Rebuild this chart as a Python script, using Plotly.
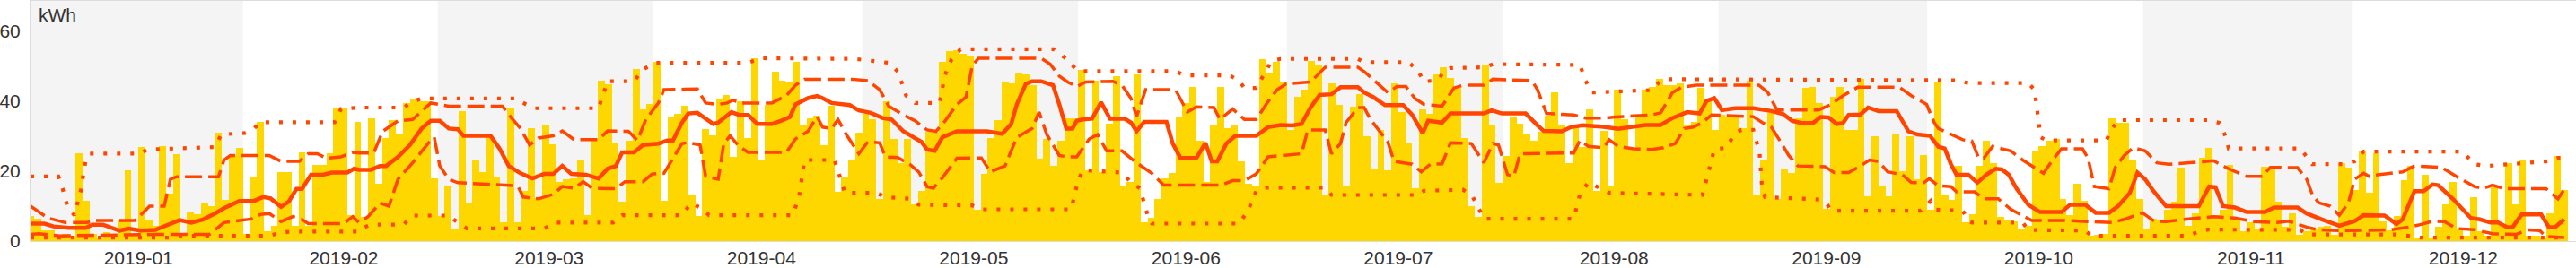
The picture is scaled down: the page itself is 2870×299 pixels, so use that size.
import pandas as pd
import plotly.graph_objects as go

# ---------------- data ----------------
start_date = "2019-01-01"

daily_kwh = [
    7.3, 6.5, 3.2, 3.0, 1.0, 2.0, 1.5, 25.1, 11.5, 2.0,
    1.0, 2.5, 1.5, 5.8, 20.3, 1.5, 26.9, 6.2, 4.3, 27.2,
    13.6, 24.9, 1.5, 8.2, 7.8, 11.0, 10.0, 31.1, 11.9, 24.5,
    26.7, 2.0, 18.1, 34.0, 2.7, 4.3, 19.8, 19.8, 4.4, 25.4,
    4.4, 21.8, 21.8, 25.2, 38.2, 38.2, 7.5, 34.0, 7.0, 35.0,
    16.4, 29.5, 34.6, 30.5, 39.5, 40.6, 40.0, 40.0, 18.0, 7.3,
    15.7, 3.6, 37.2, 10.9, 23.0, 19.8, 29.7, 18.1, 5.5, 38.2,
    5.3, 14.4, 32.4, 12.4, 33.0, 27.8, 16.8, 17.7, 17.9, 23.2,
    7.4, 29.2, 46.0, 44.9, 28.0, 11.3, 28.6, 49.3, 37.8, 39.2,
    51.3, 11.5, 35.6, 36.5, 38.6, 13.0, 7.3, 32.0, 30.3, 40.8,
    41.8, 24.1, 40.0, 29.5, 52.3, 23.2, 39.0, 48.5, 46.0, 45.7,
    51.3, 33.0, 35.2, 36.0, 27.4, 38.6, 14.1, 18.1, 23.2, 30.9,
    36.5, 34.8, 12.1, 39.9, 29.2, 22.4, 29.2, 10.4, 14.3, 31.4,
    31.0, 51.2, 54.4, 54.6, 53.6, 52.7, 9.1, 19.2, 29.5, 34.6,
    45.7, 45.2, 48.2, 47.6, 44.6, 23.7, 29.2, 21.5, 28.8, 35.0,
    35.2, 49.0, 20.3, 45.9, 19.8, 33.5, 47.2, 15.8, 16.8, 47.6,
    5.3, 6.6, 12.1, 17.9, 19.4, 35.6, 39.5, 44.0, 28.8, 17.0,
    33.2, 44.0, 32.2, 33.0, 22.8, 16.4, 15.6, 52.0, 48.3, 51.2,
    45.7, 31.8, 41.2, 43.2, 51.5, 50.6, 13.4, 45.0, 39.0, 15.8,
    38.4, 42.0, 30.1, 20.5, 31.8, 20.3, 45.0, 36.9, 28.0, 15.0,
    37.8, 36.5, 47.6, 49.7, 46.6, 43.8, 29.5, 10.0, 6.8, 50.6,
    33.2, 16.7, 24.4, 35.4, 33.5, 30.5, 28.8, 31.4, 35.8, 42.5,
    33.1, 22.4, 33.2, 27.0, 37.8, 14.4, 31.5, 16.0, 43.3, 34.8,
    26.4, 35.8, 43.3, 44.0, 46.3, 44.6, 44.6, 45.2, 33.0, 34.0,
    43.8, 40.8, 31.8, 36.1, 35.5, 35.6, 32.2, 45.9, 13.0, 23.0,
    36.7, 12.1, 20.7, 19.4, 35.0, 43.9, 44.2, 39.5, 9.3, 41.2,
    44.2, 31.8, 31.8, 46.3, 12.7, 30.1, 16.0, 12.7, 30.7, 20.1,
    30.1, 17.7, 24.5, 9.1, 45.5, 13.4, 11.9, 21.5, 5.3, 7.6,
    21.5, 28.8, 22.4, 7.0, 5.9, 5.7, 3.3, 4.4, 25.6, 27.1,
    28.8, 29.2, 12.1, 7.4, 16.4, 11.5, 1.5, 1.8, 2.0, 35.0,
    33.9, 33.9, 23.4, 12.1, 3.3, 6.3, 5.9, 8.9, 11.3, 21.1,
    4.4, 7.9, 23.8, 26.7, 7.4, 9.1, 21.8, 6.2, 2.7, 5.3,
    3.6, 21.3, 21.3, 11.3, 4.0, 8.0, 1.9, 2.9, 3.6, 4.0,
    4.3, 1.9, 22.4, 21.1, 14.7, 25.6, 13.8, 25.0, 5.7, 3.2,
    7.3, 17.4, 21.5, 1.0, 19.0, 1.0, 4.2, 10.4, 17.0, 3.6,
    1.5, 12.6, 2.7, 1.5, 15.3, 4.9, 22.4, 10.4, 23.0, 1.5,
    1.5, 1.0, 8.0, 24.4, 14.7,
]

# solid line (rolling mean) : day offset from start_date, kWh
mean_days = [0, 2, 3.3, 5.5, 7.9, 8.9, 10.4, 12.8, 14.1, 15.8, 17.9, 19.7, 21.4, 23.1, 24.8, 26.5, 27.8, 30, 32.1, 33.4,
             34.5, 36, 37.1, 38.2, 39, 40.3, 42, 43.3, 45.5, 46.5, 47.2, 48.9, 50.2, 51.1, 52.8, 54.5, 56.2, 57.5, 58.8, 60.1,
             61.4, 62.2, 66.1, 67.4, 68.7, 70.4, 72.1, 73.8, 75.1, 76.4, 77.7, 79.8, 81.6, 82.9, 84.1, 85, 86.7, 88, 90.2, 91.5,
             92.3, 93.6, 94.5, 95.8, 97, 98.1, 98.8, 99.6, 100.7, 101.8, 103.1, 104.4, 106.5, 107.8, 109.1, 109.9, 111.7, 113, 113.8, 115.1,
             116.8, 117.7, 119, 120.7, 122.4, 123.7, 125.4, 126.7, 128, 128.8, 129.9, 131, 133.1, 137.4, 139.6, 140.9, 141.7, 143, 143.9, 145.2,
             146.9, 147.8, 148.8, 149.7, 150.3, 151.2, 152.5, 153.8, 155.1, 157.2, 158.1, 158.9, 160, 163.2, 164.1, 165.2, 167.5, 168.8, 169.7, 170.5,
             171.8, 173.1, 176.1, 177.8, 179.6, 181.3, 182.6, 183.9, 185.2, 186.9, 188.2, 190.7, 191.6, 192.9, 194.6, 197.2, 198.5, 200, 200.8, 202.8,
             204, 208.8, 209.9, 211.4, 214.8, 216.5, 217.4, 220, 221.3, 223, 226, 228.1, 230.3, 232, 234.2, 235.9, 238, 239.8, 240.8, 241.9,
             243, 244.9, 247.5, 250.1, 251.8, 253.1, 254.4, 256.1, 257.2, 258.3, 259.5, 260.4, 261.2, 262.9, 264, 265.5, 268.1, 269.8, 271.1, 272.9,
             274.1, 275, 275.9, 276.7, 278.4, 279.7, 281, 282.3, 283.2, 284.2, 285.3, 287, 288.7, 291.8, 293, 295.2, 296.7, 298.6, 299.9, 301.6,
             302.7, 303.8, 305, 306.8, 311.5, 313, 313.9, 315, 316.7, 318.4, 321, 322.3, 325.7, 327, 329.2, 331.7, 333.9, 335.2, 338.2, 339.9,
             340.8, 342.5, 343.8, 345.1, 345.9, 348, 350.6, 351.9, 353.4, 354.5, 355.8, 356.6, 357.9, 360.7, 361.8, 362.7, 364]
mean_kwh = [5.0, 5.0, 4.2, 3.8, 3.8, 4.7, 4.7, 3.0, 3.6, 3.0, 3.2, 4.7, 6.0, 5.3, 6.2, 7.9, 9.4, 11.5, 11.5, 12.6,
            12.2, 9.8, 11.3, 14.9, 14.9, 19.0, 19.0, 19.6, 19.6, 20.7, 20.4, 20.4, 21.5, 21.5, 24.1, 27.5, 32.2, 34.4, 34.4, 32.2,
            32.0, 30.1, 30.1, 26.4, 21.5, 19.4, 17.9, 19.2, 19.2, 21.5, 19.2, 19.0, 17.9, 20.7, 21.5, 25.4, 25.4, 27.5, 27.9, 28.8,
            28.8, 33.9, 36.5, 36.7, 35.2, 33.5, 33.9, 35.2, 36.9, 36.1, 36.1, 33.5, 33.5, 34.4, 35.5, 39.1, 40.9, 41.5, 40.9, 39.5,
            39.1, 38.9, 37.4, 36.7, 35.2, 34.8, 31.4, 29.8, 28.4, 26.2, 25.8, 29.7, 31.4, 31.4, 30.7, 33.5, 39.1, 45.0, 45.7, 45.7,
            44.6, 39.1, 32.2, 32.2, 34.4, 34.8, 35.0, 39.7, 35.0, 35.0, 33.9, 31.4, 34.1, 34.1, 27.9, 23.8, 23.8, 28.1, 22.8, 22.8,
            27.9, 30.1, 30.1, 32.6, 33.2, 33.1, 33.5, 38.2, 41.8, 42.0, 44.0, 44.0, 42.5, 41.2, 38.9, 38.9, 36.1, 30.9, 34.4, 33.9,
            36.5, 36.5, 37.4, 36.5, 36.5, 33.1, 31.5, 31.4, 32.6, 33.1, 32.7, 32.1, 32.6, 33.2, 33.2, 35.2, 36.9, 36.5, 40.1, 40.9,
            37.5, 38.0, 38.0, 37.2, 36.3, 34.4, 33.8, 33.8, 35.5, 35.4, 33.5, 33.8, 36.1, 36.2, 38.2, 37.2, 37.2, 31.4, 30.5, 30.1,
            27.0, 26.5, 22.0, 19.0, 19.0, 16.7, 19.0, 20.7, 20.5, 19.0, 15.1, 10.4, 8.3, 8.3, 10.4, 10.4, 8.1, 8.1, 10.0, 13.8,
            19.6, 17.7, 14.3, 10.0, 10.0, 15.6, 15.4, 10.0, 9.6, 8.3, 8.3, 9.6, 9.6, 7.9, 6.2, 4.4, 5.7, 7.4, 7.3, 4.9,
            6.2, 14.3, 14.3, 16.2, 16.0, 12.1, 6.6, 6.2, 5.3, 5.3, 4.0, 4.0, 7.6, 7.6, 4.0, 4.0, 6.2]

# upper dashed line
upper_days = [0, 1, 2.5, 5, 8.1, 9.4, 15, 15.8, 17.1, 19.2, 20.1, 21, 27, 27.8, 28.7, 34.3, 36, 38.6, 39.9, 41.2,
              42.5, 44.6, 46.3, 47.2, 49.3, 50.6, 52.8, 54.9, 57.5, 60.1, 67.8, 69.1, 70.4, 71.7, 73, 75.1, 76.4, 78.1, 81.6, 82.9,
              85.9, 87.2, 88.4, 90.2, 91, 95.8, 97, 98.8, 100.1, 100.9, 102.2, 106.5, 108.6, 109.9, 111.2, 118.1, 120.3, 122, 123.3, 125.4,
              127.1, 128.8, 130.1, 131.4, 133.1, 134.4, 135.3, 136.2, 145.2, 146.5, 147.8, 149, 150.3, 151.6, 155.5, 156.8, 158.1, 158.9, 160.2, 164.5,
              165.4, 166.2, 167.5, 170, 170.9, 172.7, 174.4, 176.1, 177.8, 179.1, 180.4, 183.9, 186, 190.7, 191.6, 192.9, 195, 196.3, 197.6, 198.9,
              200.2, 202.8, 204.5, 205.8, 208.8, 210.1, 215.7, 216.5, 217.8, 221.7, 223.4, 226.4, 227.7, 232.9, 234.2, 235.9, 237.2, 239.3, 248.3, 249.6,
              250.9, 256.9, 258.7, 260.4, 262.5, 268.5, 270.2, 272.4, 273.5, 274.1, 275.9, 277.6, 278.9, 279.9, 280.6, 281.9, 283.2, 284.5, 286.2, 287.9,
              289.2, 290.5, 291.8, 294.8, 295.6, 296.5, 298.6, 299.5, 300.8, 302.1, 303.8, 305.5, 307.2, 310.2, 311.9, 313.6, 315.8, 318.4, 320.6, 321.8,
              325.7, 327, 327.8, 328.7, 330.4, 331.7, 333, 333.9, 335.2, 336, 336.9, 340.8, 342.5, 346.4, 348.5, 351.1, 352.4, 353.7, 355.4, 361.4,
              363.1, 364]
upper_kwh = [10.0, 8.7, 6.6, 5.3, 5.3, 5.9, 5.9, 7.4, 10.0, 10.0, 17.7, 18.4, 18.4, 23.2, 24.5, 24.5, 22.8, 22.8, 25.0, 25.0,
             23.7, 24.1, 25.4, 25.2, 25.2, 31.4, 34.4, 34.8, 39.5, 38.6, 38.6, 35.2, 32.2, 27.5, 29.5, 30.1, 31.5, 29.0, 29.0, 31.5,
             31.4, 28.8, 34.8, 39.5, 43.3, 43.5, 39.5, 39.1, 39.5, 40.3, 39.5, 39.5, 41.6, 44.6, 46.3, 46.3, 45.9, 43.3, 38.6, 36.1,
             34.4, 31.8, 31.4, 34.4, 39.1, 41.2, 50.2, 52.3, 52.3, 50.6, 47.2, 45.5, 44.2, 45.5, 45.7, 44.6, 40.8, 35.6, 43.3, 43.3,
             39.9, 36.9, 38.4, 38.2, 34.8, 37.8, 34.8, 34.8, 39.9, 43.3, 45.0, 45.5, 49.7, 49.7, 48.5, 46.3, 42.5, 44.2, 44.2, 40.8,
             39.1, 38.6, 43.8, 44.6, 44.6, 46.3, 45.9, 43.3, 36.5, 36.1, 35.2, 35.2, 35.5, 36.1, 36.7, 42.5, 44.0, 44.6, 44.6, 42.5,
             37.5, 37.5, 39.1, 41.6, 44.0, 44.0, 41.6, 39.1, 33.9, 32.2, 30.5, 29.0, 28.6, 23.7, 23.7, 27.1, 26.4, 25.8, 23.2, 21.1,
             19.4, 23.2, 26.4, 26.4, 23.7, 15.6, 15.0, 21.1, 24.5, 26.7, 25.8, 22.4, 22.0, 22.4, 22.8, 23.0, 20.7, 18.5, 18.5, 21.1,
             21.0, 17.7, 13.4, 11.0, 10.0, 7.4, 10.9, 17.7, 19.4, 18.5, 18.9, 19.8, 21.5, 21.1, 18.5, 15.6, 15.1, 16.0, 15.0, 15.0,
             12.1, 14.7]

# lower dashed line
lower_days = [0, 1.2, 4.2, 17.9, 25.7, 27, 27.8, 30, 31.7, 33, 34.3, 36, 37.7, 39, 39.9, 45, 46.3, 47.2, 48.5, 50.2,
              51.5, 52.8, 54.9, 57.1, 58, 58.8, 60.1, 61.4, 70, 70.8, 73, 75.1, 76.4, 78.1, 79.4, 80.7, 84.1, 85.4, 88, 89.3,
              91, 93.6, 94.5, 96.2, 97, 98.8, 99.6, 100.5, 101.8, 103.1, 108.6, 109.9, 111.7, 113, 113.8, 115.1, 116, 117.2, 119, 120.3,
              122, 122.8, 124.6, 126.3, 127.6, 128.8, 129.7, 131, 133.1, 136.6, 137.9, 140, 141.7, 143.9, 144.9, 146, 147.8, 149, 150.3, 152.1,
              153.3, 154.6, 156.8, 158.9, 161.1, 162.8, 171, 172.7, 174.4, 176.1, 177.8, 182.6, 183.5, 186, 186.9, 188.2, 189, 190.7, 191.6, 192.5,
              193.8, 195, 195.9, 198.5, 199.8, 201.1, 202.8, 204, 207, 208.8, 210.1, 210.9, 212.2, 213.1, 214, 221.7, 222.6, 223.8, 226, 226.8,
              228.1, 230.3, 232.9, 234.6, 236.3, 237.6, 238.9, 240.2, 241.5, 247.5, 248.8, 250.1, 251.3, 252.6, 253.9, 257.8, 259.1, 261.2, 262.9, 264.2,
              265.5, 266.8, 268.9, 270.2, 272, 272.8, 274.1, 275.9, 276.7, 279.3, 280.6, 282.7, 284.5, 286.2, 287.5, 292.2, 294.3, 296.9, 299, 300.8,
              303.4, 305.1, 306.8, 309.4, 311.9, 313.6, 316.7, 319.3, 322.7, 324.4, 327, 328.7, 332.2, 339, 341.6, 343.3, 345.1, 346.8, 348.5, 351.1,
              353.7, 357.1, 358.8, 360.5, 361.4, 364]
lower_kwh = [1.9, 2.1, 1.5, 1.9, 1.9, 4.0, 5.3, 5.9, 6.3, 7.6, 7.9, 5.6, 7.0, 6.2, 5.0, 5.0, 7.0, 5.3, 7.0, 10.9,
             10.0, 17.7, 22.4, 27.9, 29.7, 21.5, 17.7, 16.7, 15.8, 12.6, 12.1, 13.4, 15.6, 15.1, 17.0, 15.1, 15.0, 17.0, 17.0, 19.2,
             19.4, 27.9, 28.2, 27.5, 18.5, 17.7, 27.9, 30.1, 27.1, 25.4, 25.4, 29.2, 31.4, 35.6, 32.6, 32.2, 34.8, 30.5, 25.0, 28.4,
             28.1, 24.1, 23.9, 22.0, 19.8, 15.6, 15.1, 18.1, 23.7, 23.8, 19.8, 21.5, 29.7, 32.2, 36.9, 30.5, 24.5, 24.1, 24.1, 29.2,
             30.5, 25.8, 25.8, 22.4, 19.4, 16.0, 16.0, 17.3, 17.3, 19.2, 24.1, 25.0, 31.8, 31.8, 25.0, 27.9, 33.9, 38.2, 38.2, 34.8,
             31.4, 28.4, 22.8, 22.0, 19.8, 22.0, 22.1, 28.1, 27.9, 22.4, 27.9, 27.5, 19.0, 18.5, 25.0, 25.2, 28.8, 27.1, 26.7, 29.0,
             27.1, 26.4, 26.2, 26.7, 27.9, 32.2, 32.6, 33.9, 36.1, 35.6, 33.9, 32.6, 28.8, 24.5, 21.5, 21.3, 19.6, 19.6, 21.5, 23.2,
             22.8, 19.8, 19.0, 16.8, 16.7, 17.9, 15.8, 15.6, 14.1, 14.1, 12.1, 12.1, 9.1, 7.3, 5.9, 5.9, 5.7, 5.5, 5.3, 6.2,
             8.1, 5.7, 5.6, 6.2, 6.6, 7.0, 6.6, 5.6, 5.3, 5.7, 4.0, 3.2, 3.0, 3.2, 4.0, 4.7, 5.7, 5.6, 3.6, 3.3,
             2.1, 1.9, 3.2, 3.0, 1.3, 1.0]

# upper dotted line (rolling max)
max_days = [0, 4, 4.6, 5.3, 6.3, 7.2, 7.9, 8.5, 15.8, 16.7, 26.5, 27.4, 30.8, 32.1, 33, 43.7, 44.6, 47.2, 53.6, 54.9,
            56.2, 69.5, 71.2, 72.5, 81.6, 82.9, 86.7, 88, 89.7, 103.1, 104.4, 104.8, 118.5, 123.3, 124.6, 125.8, 127.1, 130.6, 131.4, 132.3,
            133.6, 147, 148.7, 150.3, 151.2, 164.5, 165.8, 172.3, 173.6, 174.4, 176.1, 177.2, 178.3, 179.6, 190.7, 191.6, 198, 199.4, 200.2, 202.3,
            203.2, 204, 208.8, 210.1, 222.6, 223.4, 224.3, 232.9, 234.2, 235, 276.7, 278.4, 287, 287.9, 288.3, 288.8, 289.6, 298.2, 299.1, 299.9,
            312.8, 314.5, 315.4, 315.8, 326.1, 327.4, 327.8, 332.2, 333.9, 335.2, 349.4, 351.1, 352.8, 361.4, 363.1, 364]
max_kwh = [18.5, 18.5, 15.1, 10.0, 7.4, 14.3, 22.8, 25.0, 25.0, 26.2, 26.9, 30.5, 30.9, 32.2, 34.0, 34.0, 37.8, 38.2, 38.2, 39.9,
           40.8, 40.8, 39.1, 38.0, 38.0, 45.7, 45.7, 49.1, 51.0, 51.0, 51.9, 52.3, 52.1, 51.0, 48.5, 41.6, 39.5, 39.5, 47.6, 51.9,
           54.9, 54.9, 52.3, 49.0, 48.6, 48.6, 47.4, 47.4, 45.9, 43.8, 43.8, 47.6, 51.5, 52.1, 52.1, 51.2, 51.2, 48.5, 45.5, 46.3,
           48.9, 49.5, 49.7, 50.6, 50.4, 45.9, 42.5, 43.2, 45.9, 46.3, 46.0, 45.2, 45.2, 43.3, 37.4, 29.7, 28.8, 28.8, 32.2, 34.6,
           34.6, 33.8, 29.7, 26.5, 26.5, 23.2, 22.0, 22.0, 22.8, 25.6, 25.6, 22.0, 21.5, 22.8, 23.8, 23.8]

# lower dotted line (rolling min)
min_days = [0, 20, 21.4, 34.3, 36, 37.3, 47.2, 48, 48.9, 53.6, 54.9, 60.1, 61.4, 62.7, 73.8, 75.5, 83.7, 85, 93.6, 94.9,
            96.2, 97.5, 109.5, 110.4, 111.2, 115.5, 116.4, 117, 121.5, 122.8, 126.3, 127.6, 135.3, 136.6, 149.5, 150.5, 151.2, 156.8, 158.1, 159.4,
            160.6, 161.1, 173.6, 174.8, 176.1, 177.4, 186, 186.9, 199.4, 200.2, 205.8, 207.1, 207.9, 208.8, 221.7, 222.6, 223.8, 225.1, 226.8, 240.2,
            241, 241.9, 243.6, 244.9, 245.8, 247.5, 248.4, 248.8, 249.2, 257, 258, 258.7, 271.5, 272.4, 273, 273.8, 277.6, 278.4, 278.9, 286.2,
            287, 295.2, 296.1, 309.8, 311.5, 312.8, 326.1, 327, 339.9, 341.6, 343.3, 364]
min_kwh = [1.0, 1.0, 1.5, 1.5, 2.5, 2.7, 2.7, 4.0, 4.7, 4.7, 7.3, 7.3, 5.3, 3.6, 3.6, 5.3, 5.3, 7.4, 7.4, 10.9,
           9.6, 7.4, 7.4, 12.6, 23.2, 23.2, 17.7, 13.8, 13.8, 12.6, 12.1, 10.4, 10.2, 9.1, 9.1, 17.3, 20.3, 19.6, 16.8, 15.1,
           6.6, 5.0, 5.0, 8.3, 14.3, 15.3, 15.3, 13.2, 13.2, 14.4, 14.7, 13.0, 10.0, 6.4, 6.4, 13.4, 16.8, 15.6, 13.8, 13.2,
           19.4, 26.2, 26.7, 30.9, 31.8, 31.8, 25.4, 14.3, 12.6, 11.9, 10.9, 8.7, 8.7, 10.4, 11.5, 9.0, 8.7, 5.7, 5.3, 5.3,
           3.2, 3.0, 1.5, 1.5, 2.7, 3.3, 3.2, 1.9, 1.9, 1.5, 1.0, 1.0]

month_ticks = "%Y-%m"
y_ticks = [0, 20, 40, 60]
unit_label = "kWh"

# ---------------- figure ----------------
base = pd.Timestamp(start_date)
bar_x = pd.date_range(start_date, periods=len(daily_kwh), freq="D")


def to_dates(days):
    return [base + pd.Timedelta(days=d) for d in days]


GOLD = "#FFD700"
RED = "#FF4500"
FONT = "Liberation Sans, Arial, sans-serif"

fig = go.Figure()
fig.add_trace(go.Bar(x=bar_x, y=daily_kwh, marker=dict(color=GOLD, line=dict(width=0)),
                     showlegend=False, hoverinfo="x+y"))

line_specs = [
    (min_days, min_kwh, dict(color=RED, width=4.2, dash="4px,11px")),
    (max_days, max_kwh, dict(color=RED, width=4.2, dash="4px,11px")),
    (lower_days, lower_kwh, dict(color=RED, width=3.5, dash="19px,7px")),
    (upper_days, upper_kwh, dict(color=RED, width=3.5, dash="19px,7px")),
    (mean_days, mean_kwh, dict(color=RED, width=4.5)),
]
for d, v, ln in line_specs:
    fig.add_trace(go.Scatter(x=to_dates(d), y=v, mode="lines", line=ln, showlegend=False))

# alternating month shading (odd months)
shapes = []
for m in [1, 3, 5, 7, 9, 11]:
    s = pd.Timestamp(2019, m, 1) - pd.Timedelta(hours=12)
    e = pd.Timestamp(2019, m + 1, 1) - pd.Timedelta(hours=12)
    shapes.append(dict(type="rect", xref="x", yref="paper", x0=s, x1=e, y0=0, y1=1,
                       fillcolor="#f4f4f4", line=dict(width=0), layer="below"))

fig.update_layout(
    width=2870, height=299,
    margin=dict(l=34, r=0, t=1, b=30),
    paper_bgcolor="white", plot_bgcolor="white",
    bargap=0, showlegend=False,
    font=dict(family=FONT, size=21, color="#333"),
    shapes=shapes,
    annotations=[dict(text=unit_label, xref="x domain", yref="y domain", x=0, y=1,
                      xanchor="left", yanchor="top", xshift=7, yshift=-2,
                      showarrow=False, font=dict(family=FONT, size=21, color="#333"))],
)
fig.update_xaxes(
    type="date",
    range=[base, base + pd.Timedelta(days=365.7)],
    dtick="M1", tick0=start_date, tickformat=month_ticks, ticklabelmode="period",
    ticks="", showgrid=False, zeroline=False,
    showline=True, linecolor="#dcdcdc", linewidth=1, mirror=True,
    tickfont=dict(family=FONT, size=21, color="#333"),
)
fig.update_yaxes(
    range=[0, 68.7], tickvals=y_ticks, ticks="", showgrid=False, zeroline=False,
    showline=True, linecolor="#dcdcdc", linewidth=1,
    ticklabelstandoff=6,
    tickfont=dict(family=FONT, size=21, color="#333"),
)

fig.write_html("out.html")
